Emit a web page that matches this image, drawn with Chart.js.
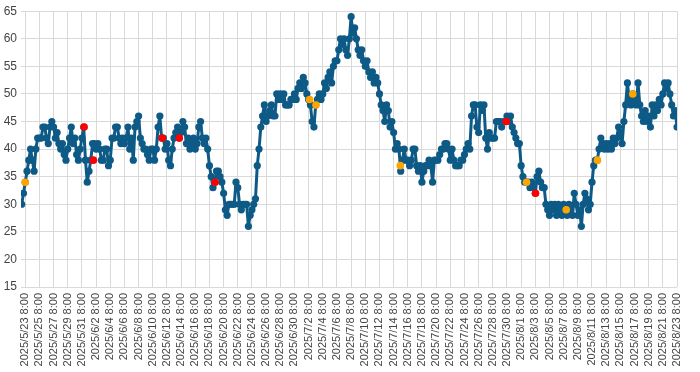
<!DOCTYPE html>
<html>
<head>
<meta charset="utf-8">
<script src="https://cdn.jsdelivr.net/npm/chart.js@4.4.0/dist/chart.umd.min.js"></script>
<style>
  html, body { margin: 0; padding: 0; background: #fff; }
</style>
</head>
<body>
<canvas id="chart" width="700" height="372"></canvas>
<script>
// X AXIS: day offsets from 2025/5/23 8:00, one tick label every 2 days
const tickLabels = [
  '2025/5/23 8:00', '2025/5/25 8:00', '2025/5/27 8:00', '2025/5/29 8:00', '2025/5/31 8:00',
  '2025/6/2 8:00', '2025/6/4 8:00', '2025/6/6 8:00', '2025/6/8 8:00', '2025/6/10 8:00',
  '2025/6/12 8:00', '2025/6/14 8:00', '2025/6/16 8:00', '2025/6/18 8:00', '2025/6/20 8:00',
  '2025/6/22 8:00', '2025/6/24 8:00', '2025/6/26 8:00', '2025/6/28 8:00', '2025/6/30 8:00',
  '2025/7/2 8:00', '2025/7/4 8:00', '2025/7/6 8:00', '2025/7/8 8:00', '2025/7/10 8:00',
  '2025/7/12 8:00', '2025/7/14 8:00', '2025/7/16 8:00', '2025/7/18 8:00', '2025/7/20 8:00',
  '2025/7/22 8:00', '2025/7/24 8:00', '2025/7/26 8:00', '2025/7/28 8:00', '2025/7/30 8:00',
  '2025/8/1 8:00', '2025/8/3 8:00', '2025/8/5 8:00', '2025/8/7 8:00', '2025/8/9 8:00',
  '2025/8/11 8:00', '2025/8/13 8:00', '2025/8/15 8:00', '2025/8/17 8:00', '2025/8/19 8:00',
  '2025/8/21 8:00', '2025/8/23 8:00'
];

// READINGS: every 6 hours, first one at day -0.5 (5/22 20:00)
const firstDay = -0.5;
const stepDays = 0.25;
const readings = [
  30, 32,
  34, 36, 38, 40,   38, 36, 40, 42,   42, 42, 44, 44,   42, 41, 44, 45,   44, 42, 43, 41,   // 5/23 - 5/27
  40, 41, 39, 38,   40, 42, 44, 41,   42, 39, 38, 40,   42, 44, 38, 34,   36, 38, 41, 41,   // 5/28 - 6/1
  40, 41, 40, 38,   38, 40, 40, 37,   38, 42, 42, 44,   44, 42, 41, 42,   41, 42, 44, 40,   // 6/2 - 6/6
  42, 38, 44, 45,   46, 42, 41, 40,   40, 39, 38, 40,   40, 38, 40, 44,   46, 42, 42, 40,   // 6/7 - 6/11
  41, 38, 37, 40,   42, 43, 44, 42,   43, 45, 44, 41,   42, 40, 41, 42,   40, 41, 44, 45,   // 6/12 - 6/16
  42, 41, 42, 40,   37, 35, 33, 34,   36, 36, 35, 34,   32, 29, 28, 30,   30, 30, 30, 34,   // 6/17 - 6/21
  33, 30, 29, 30,   30, 30, 26, 28,   29, 30, 31, 37,   40, 44, 46, 48,   45, 46, 47, 48,   // 6/22 - 6/26
  46, 46, 50, 49,   50, 49, 50, 48,   48, 48, 49, 49,   50, 49, 51, 52,   51, 53, 52, 50,   // 6/27 - 7/1
  49, 48, 45, 44,   48, 49, 50, 49,   50, 52, 51, 53,   54, 52, 55, 56,   56, 58, 60, 59,   // 7/2 - 7/6
  60, 58, 57, 60,   64, 61, 62, 60,   58, 57, 58, 56,   55, 56, 54, 53,   54, 52, 53, 52,   // 7/7 - 7/11
  50, 48, 47, 45,   48, 47, 44, 45,   43, 40, 41, 40,   36, 38, 40, 38,   38, 37, 38, 40,   // 7/12 - 7/16
  40, 37, 36, 37,   34, 36, 37, 37,   38, 37, 34, 38,   38, 38, 39, 40,   40, 41, 41, 40,   // 7/17 - 7/21
  38, 40, 38, 37,   37, 37, 38, 38,   39, 40, 41, 40,   46, 48, 48, 44,   43, 48, 47, 48,   // 7/22 - 7/26
  42, 40, 43, 42,   42, 42, 45, 45,   45, 44, 45, 45,   46, 45, 46, 44,   43, 42, 41, 41,   // 7/27 - 7/31
  37, 35, 34, 34,   34, 33, 34, 33,   32, 35, 36, 34,   33, 33, 30, 29,   28, 30, 29, 30,   // 8/1 - 8/5
  28, 30, 29, 28,   30, 29, 28, 30,   29, 28, 32, 30,   28, 29, 26, 30,   32, 31, 29, 30,   // 8/6 - 8/10
  34, 37, 38, 38,   40, 42, 41, 40,   41, 40, 41, 40,   42, 41, 42, 44,   43, 41, 45, 48,   // 8/11 - 8/15
  52, 49, 48, 50,   49, 48, 52, 48,   46, 45, 47, 45,   46, 44, 48, 46,   48, 47, 49, 48,   // 8/16 - 8/20
  50, 52, 51, 52,   50, 48, 46, 47,   44                                                    // 8/21 - 8/23
];

// HIGHLIGHTED POINTS
const orangeDays = [0, 40.14, 41.04, 52.94, 70.76, 76.36, 80.77, 85.76];
const orangeValues = [34, 49, 48, 37, 34, 29, 38, 50];
const redDays = [8.31, 9.62, 19.34, 21.74, 26.8, 67.9, 72.03];
const redValues = [44, 38, 42, 42, 34, 45, 32];

const mainPoints = readings.map((v, i) => ({ x: firstDay + i * stepDays, y: v }));
const orangePoints = orangeDays.map((d, i) => ({ x: d, y: orangeValues[i] }));
const redPoints = redDays.map((d, i) => ({ x: d, y: redValues[i] }));

const BLUE = '#0e5a87';
const GRID = '#d9d9d9';
const TEXT = '#444444';
const FONT = "'Liberation Sans', Arial, sans-serif";

new Chart(document.getElementById('chart'), {
  type: 'line',
  data: {
    datasets: [
      {
        data: orangePoints, showLine: false, order: 0,
        pointRadius: 3.8, pointBackgroundColor: '#ffa500', pointBorderWidth: 0
      },
      {
        data: redPoints, showLine: false, order: 0,
        pointRadius: 3.8, pointBackgroundColor: '#ff0000', pointBorderWidth: 0
      },
      {
        data: mainPoints, order: 1,
        borderColor: BLUE, borderWidth: 3, tension: 0,
        borderJoinStyle: 'round', borderCapStyle: 'round',
        pointRadius: 3.6, pointBackgroundColor: BLUE, pointBorderWidth: 0
      }
    ]
  },
  options: {
    responsive: false,
    animation: false,
    events: [],
    layout: { padding: { left: 0, right: 23, top: 9, bottom: 0 } },
    plugins: { legend: { display: false }, tooltip: { enabled: false } },
    scales: {
      x: {
        type: 'linear',
        min: -0.6,
        max: 92,
        afterFit: s => { s.height = 85; },
        grid: { color: GRID, drawTicks: false },
        border: { display: false },
        ticks: {
          stepSize: 2,
          includeBounds: false,
          autoSkip: false,
          minRotation: 90,
          maxRotation: 90,
          padding: 6,
          color: TEXT,
          font: { family: FONT, size: 11 },
          callback: v => tickLabels[v / 2]
        }
      },
      y: {
        min: 15,
        max: 65,
        afterFit: s => { s.width = 21; },
        grid: { color: GRID, drawTicks: false },
        border: { display: false },
        ticks: {
          stepSize: 5,
          padding: 4,
          color: TEXT,
          font: { family: FONT, size: 12 }
        }
      }
    }
  }
});
</script>
</body>
</html>
